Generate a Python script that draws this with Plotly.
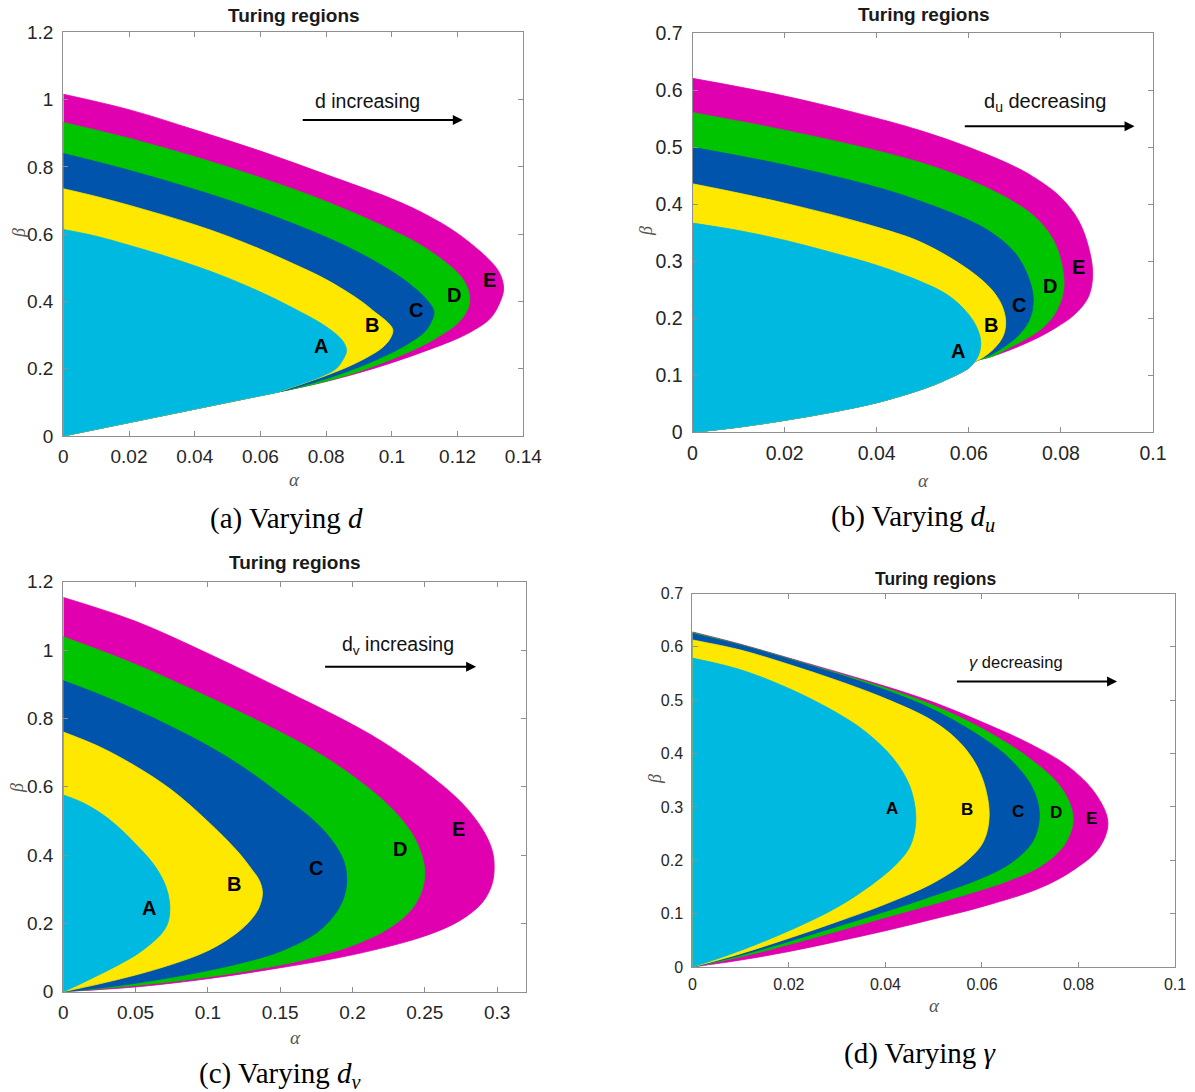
import plotly.graph_objects as go

W, H = 1195, 1092

COLORS = {"A": "#00B9E0", "B": "#FFE800", "C": "#0054AC", "D": "#00C400", "E": "#E000B0"}
REGION_ORDER = ["E", "D", "C", "B", "A"]

# ---------------- Panel (a): varying d  (alpha, beta) boundary points ----------------
A_COMMON_LOWER = [(0.065, 0.13), (0.06, 0.12), (0.05, 0.1), (0.04, 0.08), (0.03, 0.06),
                  (0.02, 0.04), (0.01, 0.02), (0.0, 0.0)]
A_REG_A = [(0, 0.614), (0.01, 0.594), (0.02, 0.567), (0.03, 0.538), (0.04, 0.506), (0.05, 0.47),
           (0.06, 0.428), (0.07, 0.38), (0.08, 0.325), (0.085, 0.283), (0.0862, 0.254),
           (0.085, 0.225), (0.083, 0.2), (0.0785, 0.177), (0.073, 0.157), (0.068, 0.14)]
A_REG_B = [(0, 0.735), (0.01, 0.712), (0.02, 0.686), (0.03, 0.658), (0.04, 0.628), (0.05, 0.594),
           (0.06, 0.555), (0.07, 0.512), (0.08, 0.465), (0.09, 0.405), (0.095, 0.367),
           (0.099, 0.335), (0.1003, 0.315), (0.0995, 0.29), (0.097, 0.262), (0.093, 0.237),
           (0.088, 0.212), (0.08, 0.18), (0.07, 0.146)]
A_REG_C = [(0, 0.84), (0.02, 0.79), (0.04, 0.733), (0.06, 0.668), (0.08, 0.591), (0.09, 0.545),
           (0.1, 0.489), (0.105, 0.455), (0.11, 0.412), (0.1128, 0.371), (0.112, 0.34),
           (0.11, 0.31), (0.105, 0.275), (0.1, 0.248), (0.09, 0.205), (0.08, 0.17), (0.07, 0.142)]
A_REG_D = [(0, 0.932), (0.02, 0.885), (0.04, 0.83), (0.06, 0.768), (0.08, 0.697), (0.1, 0.612),
           (0.11, 0.56), (0.12, 0.485), (0.1228, 0.445), (0.1237, 0.407), (0.123, 0.375),
           (0.12, 0.335), (0.115, 0.3), (0.11, 0.272), (0.1, 0.228), (0.09, 0.192),
           (0.08, 0.163), (0.07, 0.14)]
A_REG_E = [(0, 1.016), (0.02, 0.97), (0.04, 0.91), (0.06, 0.847), (0.08, 0.777), (0.1, 0.705),
           (0.11, 0.66), (0.12, 0.602), (0.13, 0.52), (0.133, 0.48), (0.134, 0.438),
           (0.133, 0.4), (0.13, 0.35), (0.125, 0.315), (0.12, 0.29), (0.11, 0.252),
           (0.1, 0.218), (0.09, 0.188), (0.08, 0.162), (0.07, 0.14)]

# ---------------- Panel (b): varying d_u ----------------
B_COMMON_LOWER = [(0.0613, 0.124), (0.06, 0.113), (0.055, 0.092), (0.05, 0.076), (0.04, 0.052),
                  (0.03, 0.035), (0.02, 0.021), (0.01, 0.009), (0.0, 0.0)]
B_REG_A = [(0, 0.367), (0.01, 0.354), (0.02, 0.337), (0.03, 0.316), (0.04, 0.293), (0.05, 0.263),
           (0.055, 0.243), (0.0585, 0.22), (0.061, 0.195), (0.0623, 0.172), (0.0626, 0.155),
           (0.0622, 0.137)]
B_REG_B = [(0, 0.436), (0.02, 0.402), (0.04, 0.36), (0.05, 0.332), (0.06, 0.285), (0.065, 0.25),
           (0.0672, 0.222), (0.068, 0.195), (0.0675, 0.17), (0.0655, 0.147), (0.0628, 0.13)]
B_REG_C = [(0, 0.5), (0.02, 0.469), (0.04, 0.43), (0.05, 0.404), (0.06, 0.372), (0.065, 0.35),
           (0.07, 0.315), (0.0728, 0.275), (0.074, 0.235), (0.0733, 0.2), (0.071, 0.172),
           (0.068, 0.152), (0.065, 0.137)]
B_REG_D = [(0, 0.561), (0.02, 0.53), (0.04, 0.494), (0.05, 0.472), (0.06, 0.443), (0.07, 0.403),
           (0.075, 0.373), (0.0785, 0.335), (0.0803, 0.29), (0.0806, 0.251), (0.079, 0.212),
           (0.076, 0.183), (0.072, 0.162), (0.068, 0.145), (0.065, 0.133)]
B_REG_E = [(0, 0.621), (0.02, 0.59), (0.04, 0.551), (0.05, 0.528), (0.06, 0.5), (0.07, 0.466),
           (0.075, 0.443), (0.08, 0.412), (0.0838, 0.372), (0.086, 0.325), (0.0869, 0.278),
           (0.086, 0.238), (0.083, 0.207), (0.079, 0.184), (0.075, 0.166), (0.07, 0.148),
           (0.065, 0.133)]

# ---------------- Panel (c): varying d_v ----------------
C_REG_A = [(0, 0.576), (0.0125, 0.555), (0.025, 0.525), (0.0375, 0.484), (0.05, 0.432),
           (0.06, 0.386), (0.067, 0.343), (0.0718, 0.296), (0.0737, 0.244), (0.0722, 0.2),
           (0.068, 0.17), (0.06, 0.138), (0.05, 0.107), (0.0375, 0.077), (0.025, 0.05),
           (0.0125, 0.024), (0, 0)]
C_REG_B = [(0, 0.76), (0.025, 0.717), (0.05, 0.66), (0.075, 0.59), (0.1, 0.498), (0.12, 0.413),
           (0.13, 0.36), (0.1355, 0.326), (0.1377, 0.29), (0.1355, 0.248), (0.13, 0.212),
           (0.12, 0.172), (0.1, 0.12), (0.075, 0.08), (0.05, 0.049), (0.025, 0.023), (0, 0)]
C_REG_C = [(0, 0.91), (0.025, 0.87), (0.05, 0.825), (0.075, 0.775), (0.1, 0.72), (0.125, 0.655),
           (0.15, 0.578), (0.175, 0.494), (0.188, 0.43), (0.1945, 0.375), (0.196, 0.321),
           (0.1935, 0.27), (0.187, 0.222), (0.175, 0.172), (0.15, 0.118), (0.125, 0.086),
           (0.1, 0.062), (0.075, 0.042), (0.05, 0.025), (0.025, 0.011), (0, 0)]
C_REG_D = [(0, 1.039), (0.05, 0.958), (0.1, 0.863), (0.15, 0.76), (0.175, 0.702), (0.2, 0.632),
           (0.225, 0.545), (0.24, 0.47), (0.2475, 0.405), (0.25, 0.347), (0.2475, 0.29),
           (0.24, 0.237), (0.225, 0.185), (0.2, 0.135), (0.175, 0.103), (0.15, 0.078),
           (0.1, 0.043), (0.05, 0.018), (0, 0)]
C_REG_E = [(0, 1.154), (0.05, 1.084), (0.1, 0.99), (0.15, 0.888), (0.2, 0.782), (0.225, 0.72),
           (0.25, 0.645), (0.275, 0.555), (0.29, 0.475), (0.2965, 0.415), (0.298, 0.367),
           (0.2965, 0.315), (0.29, 0.262), (0.275, 0.21), (0.25, 0.163), (0.2, 0.108),
           (0.15, 0.07), (0.1, 0.038), (0.05, 0.014), (0, 0)]

# ---------------- Panel (d): varying gamma ----------------
D_REG_A = [(0, 0.579), (0.01, 0.557), (0.02, 0.522), (0.03, 0.476), (0.036, 0.44), (0.0415, 0.392),
           (0.045, 0.34), (0.0463, 0.278), (0.0452, 0.228), (0.0425, 0.195),
           (0.038, 0.16), (0.03, 0.112), (0.02, 0.068), (0.01, 0.031), (0, 0)]
D_REG_B = [(0, 0.613), (0.01, 0.594), (0.02, 0.567), (0.03, 0.537), (0.04, 0.503), (0.05, 0.46),
           (0.056, 0.415), (0.0598, 0.36), (0.0615, 0.287), (0.0603, 0.235),
           (0.057, 0.2), (0.05, 0.158), (0.04, 0.118), (0.03, 0.085),
           (0.02, 0.054), (0.01, 0.025), (0, 0)]
D_REG_C = [(0, 0.625), (0.01, 0.603), (0.02, 0.577), (0.03, 0.549), (0.04, 0.519), (0.05, 0.482),
           (0.06, 0.43), (0.066, 0.388), (0.0705, 0.335), (0.0719, 0.284),
           (0.0705, 0.235), (0.066, 0.195), (0.06, 0.167), (0.05, 0.134),
           (0.04, 0.104), (0.03, 0.076), (0.02, 0.048), (0.01, 0.022), (0, 0)]
D_REG_D = [(0, 0.627), (0.01, 0.604), (0.02, 0.578), (0.03, 0.551), (0.04, 0.523), (0.05, 0.49),
           (0.06, 0.447), (0.07, 0.39), (0.0765, 0.335), (0.0789, 0.278),
           (0.077, 0.228), (0.072, 0.188), (0.065, 0.16), (0.06, 0.145), (0.05, 0.118),
           (0.04, 0.093), (0.03, 0.067), (0.02, 0.042), (0.01, 0.019), (0, 0)]
D_REG_E = [(0, 0.628), (0.01, 0.605), (0.02, 0.579), (0.03, 0.553), (0.04, 0.526), (0.05, 0.496),
           (0.06, 0.459), (0.07, 0.418), (0.078, 0.375), (0.0835, 0.325), (0.0861, 0.271),
           (0.0842, 0.222), (0.079, 0.182), (0.072, 0.148), (0.06, 0.113),
           (0.05, 0.09), (0.04, 0.068), (0.03, 0.048), (0.02, 0.029), (0.01, 0.013), (0, 0)]

# ---------------- Region letter positions (alpha, beta) ----------------
LETTERS_A = {"A": (0.0785, 0.269), "B": (0.0938, 0.33), "C": (0.1074, 0.376), "D": (0.119, 0.419), "E": (0.1297, 0.463)}
LETTERS_B = {"A": (0.0576, 0.142), "B": (0.0649, 0.188), "C": (0.0708, 0.224), "D": (0.0777, 0.257), "E": (0.0839, 0.29)}
LETTERS_C = {"A": (0.0596, 0.244), "B": (0.118, 0.316), "C": (0.1747, 0.362), "D": (0.233, 0.418), "E": (0.273, 0.477)}
LETTERS_D = {"A": (0.0413, 0.297), "B": (0.0569, 0.295), "C": (0.0674, 0.292), "D": (0.0754, 0.29), "E": (0.0826, 0.279)}

# ---------------- Arrow annotations ----------------
ARROW_TEXT = ["d increasing", "d<sub>u</sub> decreasing", "d<sub>v</sub> increasing", "<i>γ</i> decreasing"]
ARROW_TEXT_POS = [(0.0927, 0.995), (0.0766, 0.578), (0.2313, 1.012), (0.067, 0.571)]
ARROW_START = [(0.0724, 0.939), (0.0588, 0.537), (0.18, 0.951), (0.0545, 0.535)]
ARROW_END = [(0.1216, 0.939), (0.096, 0.537), (0.2855, 0.951), (0.088, 0.535)]

# ---------------- Ticks ----------------
X_TICKS_A = [0, 0.02, 0.04, 0.06, 0.08, 0.1, 0.12, 0.14]
X_TEXT_A = ["0", "0.02", "0.04", "0.06", "0.08", "0.1", "0.12", "0.14"]
X_TICKS_B = [0, 0.02, 0.04, 0.06, 0.08, 0.1]
X_TEXT_B = ["0", "0.02", "0.04", "0.06", "0.08", "0.1"]
X_TICKS_C = [0, 0.05, 0.1, 0.15, 0.2, 0.25, 0.3]
X_TEXT_C = ["0", "0.05", "0.1", "0.15", "0.2", "0.25", "0.3"]
Y_TICKS_12 = [0, 0.2, 0.4, 0.6, 0.8, 1.0, 1.2]
Y_TEXT_12 = ["0", "0.2", "0.4", "0.6", "0.8", "1", "1.2"]
Y_TICKS_07 = [0, 0.1, 0.2, 0.3, 0.4, 0.5, 0.6, 0.7]
Y_TEXT_07 = ["0", "0.1", "0.2", "0.3", "0.4", "0.5", "0.6", "0.7"]

CAPTIONS = ["(a) Varying <i>d</i>", "(b) Varying <i>d<sub>u</sub></i>",
            "(c) Varying <i>d<sub>v</sub></i>", "(d) Varying <i>γ</i>"]

# ---------------- Layout geometry (pixels) ----------------
# plot box: (left, right, top, bottom)
BOXES = [(63.3, 523.3, 32.3, 436.0), (692.5, 1153.0, 33.3, 432.3),
         (63.3, 526.0, 581.7, 991.7), (692.4, 1175.0, 593.5, 967.0)]
TITLE_POS = [(294, 16), (924, 15), (295, 563), (935, 579)]
XLAB_POS = [(294, 479), (924, 480), (295, 1037), (934, 1005)]
YLAB_POS = [(19, 233), (646, 231), (17, 788), (655, 779)]
CAP_POS = [(286, 518), (913, 518), (280, 1075), (920, 1053)]

panels = [
    dict(regions={"A": A_REG_A + A_COMMON_LOWER, "B": A_REG_B + A_COMMON_LOWER, "C": A_REG_C + A_COMMON_LOWER,
                  "D": A_REG_D + A_COMMON_LOWER, "E": A_REG_E + A_COMMON_LOWER},
         letters=LETTERS_A, xr=[0, 0.14], yr=[0, 1.2], xt=(X_TICKS_A, X_TEXT_A), yt=(Y_TICKS_12, Y_TEXT_12),
         tfs=19, lfs=20, afs=19.5, ttl=19),
    dict(regions={"A": B_REG_A + B_COMMON_LOWER, "B": B_REG_B + B_COMMON_LOWER, "C": B_REG_C + B_COMMON_LOWER,
                  "D": B_REG_D + B_COMMON_LOWER, "E": B_REG_E + B_COMMON_LOWER},
         letters=LETTERS_B, xr=[0, 0.1], yr=[0, 0.7], xt=(X_TICKS_B, X_TEXT_B), yt=(Y_TICKS_07, Y_TEXT_07),
         tfs=19.5, lfs=20, afs=20, ttl=19),
    dict(regions={"A": C_REG_A, "B": C_REG_B, "C": C_REG_C, "D": C_REG_D, "E": C_REG_E},
         letters=LETTERS_C, xr=[0, 0.32], yr=[0, 1.2], xt=(X_TICKS_C, X_TEXT_C), yt=(Y_TICKS_12, Y_TEXT_12),
         tfs=19, lfs=20, afs=19.5, ttl=19),
    dict(regions={"A": D_REG_A, "B": D_REG_B, "C": D_REG_C, "D": D_REG_D, "E": D_REG_E},
         letters=LETTERS_D, xr=[0, 0.1], yr=[0, 0.7], xt=(X_TICKS_B, X_TEXT_B), yt=(Y_TICKS_07, Y_TEXT_07),
         tfs=16, lfs=17, afs=16.5, ttl=17.5),
]

SANS = "Liberation Sans, Arial, sans-serif"
SERIF = "Liberation Serif, Times New Roman, serif"
AXCOL = "#8f8f8f"

fig = go.Figure()
annotations = []
layout_axes = {}


def px(x):
    return x / W


def py(y):
    return 1 - y / H


for i, p in enumerate(panels):
    n = "" if i == 0 else str(i + 1)
    xa, ya = "x" + n, "y" + n
    for key in REGION_ORDER:
        pts = p["regions"][key]
        fig.add_trace(go.Scatter(
            x=[q[0] for q in pts], y=[q[1] for q in pts], mode="lines", fill="toself",
            fillcolor=COLORS[key], line=dict(width=0.8, color=COLORS[key], shape="spline", smoothing=1.0),
            xaxis=xa, yaxis=ya, hoverinfo="skip", showlegend=False))
    l, r, t, b = BOXES[i]
    common = dict(showline=True, linecolor=AXCOL, linewidth=1.2, mirror="ticks", ticks="inside",
                  ticklen=5, tickcolor=AXCOL, tickwidth=1, showgrid=False, zeroline=False,
                  automargin=False,
                  tickfont=dict(family=SANS, size=p["tfs"], color="#262626"), fixedrange=True)
    layout_axes["xaxis" + n] = dict(common, domain=[px(l), px(r)], range=p["xr"], anchor=ya,
                                    tickvals=p["xt"][0], ticktext=p["xt"][1], ticklabelstandoff=3)
    layout_axes["yaxis" + n] = dict(common, domain=[py(b), py(t)], range=p["yr"], anchor=xa,
                                    tickvals=p["yt"][0], ticktext=p["yt"][1], ticklabelstandoff=5)
    # letters
    for key, (ax_, by_) in p["letters"].items():
        annotations.append(dict(x=ax_, y=by_, xref=xa, yref=ya, text="<b>%s</b>" % key, showarrow=False,
                                xanchor="center", yanchor="middle",
                                font=dict(family=SANS, size=p["lfs"], color="black")))
    # arrow text
    tx, ty = ARROW_TEXT_POS[i]
    annotations.append(dict(x=tx, y=ty, xref=xa, yref=ya, text=ARROW_TEXT[i], showarrow=False,
                            xanchor="center", yanchor="middle",
                            font=dict(family=SANS, size=p["afs"], color="#111111")))
    sx, sy = ARROW_START[i]
    ex, ey = ARROW_END[i]
    annotations.append(dict(x=ex, y=ey, xref=xa, yref=ya, ax=sx, ay=sy, axref=xa, ayref=ya, text="",
                            showarrow=True, arrowhead=2, arrowsize=1, arrowwidth=2, arrowcolor="black",
                            standoff=0, startstandoff=0))
    # title
    annotations.append(dict(x=px(TITLE_POS[i][0]), y=py(TITLE_POS[i][1]), xref="paper", yref="paper",
                            xanchor="center", yanchor="middle",
                            text="<b>Turing regions</b>", showarrow=False,
                            font=dict(family=SANS, size=p["ttl"], color="#1a1a1a")))
    # axis labels
    annotations.append(dict(x=px(XLAB_POS[i][0]), y=py(XLAB_POS[i][1]), xref="paper", yref="paper",
                            xanchor="center", yanchor="middle",
                            text="<i>α</i>", showarrow=False, font=dict(family=SERIF, size=19, color="#555555")))
    annotations.append(dict(x=px(YLAB_POS[i][0]), y=py(YLAB_POS[i][1]), xref="paper", yref="paper",
                            xanchor="center", yanchor="middle",
                            text="<i>β</i>", showarrow=False, textangle=-90,
                            font=dict(family=SERIF, size=18, color="#555555")))
    # captions
    annotations.append(dict(x=px(CAP_POS[i][0]), y=py(CAP_POS[i][1]), xref="paper", yref="paper",
                            xanchor="center", yanchor="middle",
                            text=CAPTIONS[i], showarrow=False, font=dict(family=SERIF, size=29, color="black")))

fig.update_layout(
    width=W, height=H, margin=dict(l=0, r=0, t=0, b=0, autoexpand=False),
    paper_bgcolor="white", plot_bgcolor="white", showlegend=False,
    annotations=annotations, **layout_axes)

fig.write_html("out.html", config={"displayModeBar": False})
